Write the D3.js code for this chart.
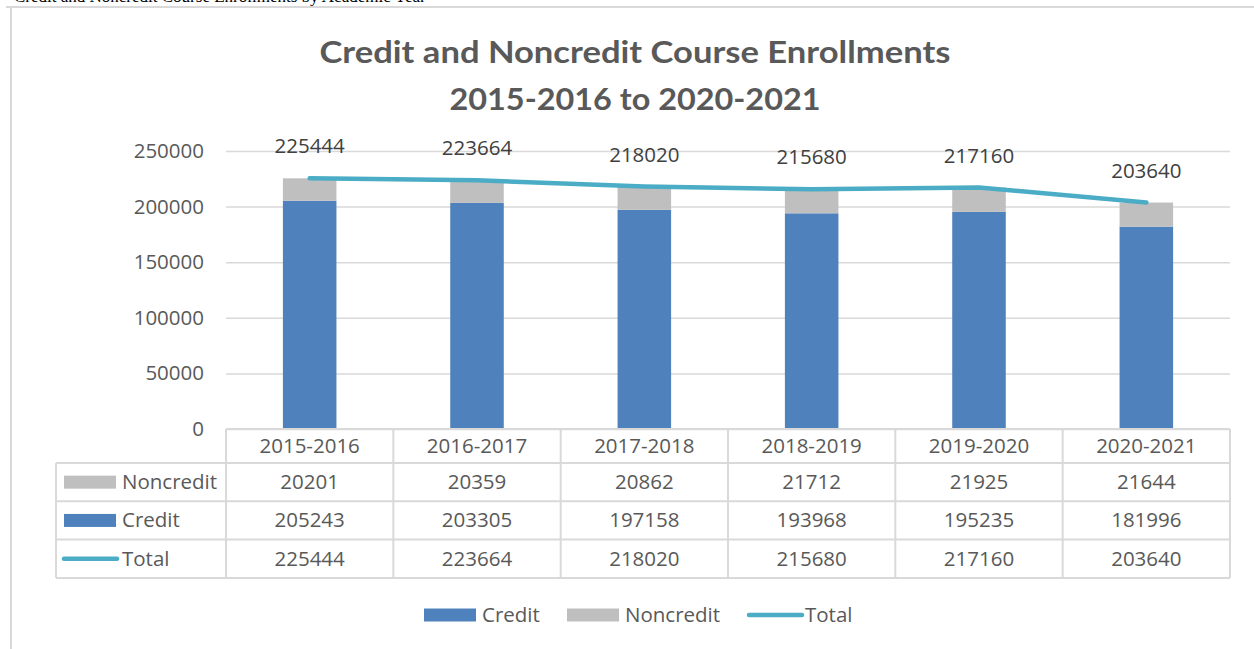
<!DOCTYPE html>
<html>
<head>
<meta charset="utf-8">
<script src="https://cdn.jsdelivr.net/npm/d3@7"></script>
<style>
	body { margin: 0; background: #fff; }
	svg { display: block; }
</style>
</head>
<body>
<svg id="chart" width="1254" height="649"></svg>
<script>
// chart data
const years = ["2015-2016", "2016-2017", "2017-2018", "2018-2019", "2019-2020", "2020-2021"]
const credit = [205243, 203305, 197158, 193968, 195235, 181996]
const noncredit = [20201, 20359, 20862, 21712, 21925, 21644]
const total = [225444, 223664, 218020, 215680, 217160, 203640]
const yTicks = [0, 50000, 100000, 150000, 200000, 250000]

const cBlue = "#4f81bd", cGrey = "#bfbfbf", cTeal = "#4bacc6", cText = "#595959", cGrid = "#d9d9d9"
const font = "'Open Sans', sans-serif"
const fs = "20.5px"

var svg = d3.select("#chart")

// page text cut off above the chart
svg.append("text")
	.attr("x", 14).attr("y", 2)
	.attr("font-family", "'Liberation Serif', serif")
	.attr("font-size", "17px")
	.attr("fill", "#000")
	.text("Credit and Noncredit Course Enrollments by Academic Year")

// chart frame
svg.append("line").attr("x1", 6).attr("x2", 1254).attr("y1", 7).attr("y2", 7)
	.attr("stroke", cGrid).attr("stroke-width", 2)
svg.append("line").attr("x1", 11).attr("x2", 11).attr("y1", 7).attr("y2", 649)
	.attr("stroke", cGrid).attr("stroke-width", 2)

// title
svg.append("text")
	.attr("x", 635).attr("y", 63)
	.attr("text-anchor", "middle")
	.attr("font-family", "Lato, sans-serif")
	.attr("font-weight", "bold")
	.attr("font-size", "31px")
	.attr("textLength", 631)
	.attr("lengthAdjust", "spacingAndGlyphs")
	.attr("fill", cText)
	.text("Credit and Noncredit Course Enrollments")
svg.append("text")
	.attr("x", 635).attr("y", 110)
	.attr("text-anchor", "middle")
	.attr("font-family", "Lato, sans-serif")
	.attr("font-weight", "bold")
	.attr("font-size", "31px")
	.attr("textLength", 371)
	.attr("lengthAdjust", "spacingAndGlyphs")
	.attr("fill", cText)
	.text("2015-2016 to 2020-2021")

var xScale = d3.scaleBand().domain(years).range([226, 1230]),
	yScale = d3.scaleLinear().domain([0, 250000]).range([429, 151])

var barW = xScale.bandwidth() * 0.32
var cx = function(i) { return xScale(years[i]) + xScale.bandwidth() / 2 }

// gridlines + y labels
var yAxis = svg.append("g")
	.attr("transform", "translate(226,0)")
	.call(d3.axisLeft(yScale).tickValues(yTicks).tickSize(-1004).tickPadding(22).tickFormat(d3.format("d")))
yAxis.select(".domain").remove()
yAxis.selectAll(".tick line").attr("stroke", cGrid).attr("stroke-width", 1.5)
yAxis.selectAll(".tick text")
	.attr("font-family", font).attr("font-size", fs).attr("fill", cText)

// stacked bars
svg.append("g").selectAll("rect")
	.data(credit)
	.enter().append("rect")
	.attr("x", function(d, i) { return cx(i) - barW / 2 })
	.attr("width", barW)
	.attr("y", function(d) { return yScale(d) })
	.attr("height", function(d) { return yScale(0) - yScale(d) })
	.attr("fill", cBlue)

svg.append("g").selectAll("rect")
	.data(noncredit)
	.enter().append("rect")
	.attr("x", function(d, i) { return cx(i) - barW / 2 })
	.attr("width", barW)
	.attr("y", function(d, i) { return yScale(credit[i] + d) })
	.attr("height", function(d, i) { return yScale(credit[i]) - yScale(credit[i] + d) })
	.attr("fill", cGrey)

// total line
var line = d3.line()
	.x(function(d, i) { return cx(i) })
	.y(function(d) { return yScale(d) })
svg.append("path")
	.datum(total)
	.attr("d", line)
	.attr("fill", "none")
	.attr("stroke", cTeal)
	.attr("stroke-width", 4.5)
	.attr("stroke-linecap", "round")
	.attr("stroke-linejoin", "round")

svg.append("g").selectAll("text")
	.data(total)
	.enter().append("text")
	.attr("x", function(d, i) { return cx(i) })
	.attr("y", function(d) { return yScale(d) - 25 })
	.attr("text-anchor", "middle")
	.attr("font-family", font).attr("font-size", fs)
	.attr("fill", "#404040")
	.text(function(d) { return d })

// data table
const tLeft = 56, tTop = 429, headH = 34, rowH = 38.3
const rows = [
	{ name: "Noncredit", values: noncredit, kind: "grey" },
	{ name: "Credit", values: credit, kind: "blue" },
	{ name: "Total", values: total, kind: "line" }
]
var tb = svg.append("g")
var tBottom = tTop + headH + rows.length * rowH

// horizontal lines
tb.append("line").attr("x1", 226).attr("x2", 1230).attr("y1", tTop).attr("y2", tTop)
for (let r = 0; r <= rows.length; r++) {
	let yy = tTop + headH + r * rowH
	tb.append("line").attr("x1", tLeft).attr("x2", 1230).attr("y1", yy).attr("y2", yy)
}
// vertical lines
tb.append("line").attr("x1", tLeft).attr("x2", tLeft).attr("y1", tTop + headH).attr("y2", tBottom)
years.forEach(function(y, i) {
	tb.append("line").attr("x1", xScale(y)).attr("x2", xScale(y)).attr("y1", tTop).attr("y2", tBottom)
})
tb.append("line").attr("x1", 1230).attr("x2", 1230).attr("y1", tTop).attr("y2", tBottom)
tb.selectAll("line").attr("stroke", cGrid).attr("stroke-width", 2)

// header labels
tb.selectAll(".hdr")
	.data(years)
	.enter().append("text")
	.attr("class", "hdr")
	.attr("x", function(d, i) { return cx(i) })
	.attr("y", tTop + headH / 2 + 7)
	.attr("text-anchor", "middle")
	.attr("font-family", font).attr("font-size", fs).attr("fill", cText)
	.text(function(d) { return d })

rows.forEach(function(row, r) {
	let mid = tTop + headH + r * rowH + rowH / 2
	if (row.kind === "line") {
		tb.append("line").attr("x1", 64).attr("x2", 117).attr("y1", mid).attr("y2", mid)
			.attr("stroke", cTeal).attr("stroke-width", 4.5).attr("stroke-linecap", "round")
	} else {
		tb.append("rect").attr("x", 64).attr("y", mid - 6.5).attr("width", 52).attr("height", 13)
			.attr("fill", row.kind === "blue" ? cBlue : cGrey)
	}
	tb.append("text")
		.attr("x", 122).attr("y", mid + 7)
		.attr("font-family", font).attr("font-size", fs).attr("fill", cText)
		.text(row.name)
	row.values.forEach(function(v, i) {
		tb.append("text")
			.attr("x", cx(i)).attr("y", mid + 7)
			.attr("text-anchor", "middle")
			.attr("font-family", font).attr("font-size", fs).attr("fill", cText)
			.text(v)
	})
})

// legend
var lg = svg.append("g")
const ly = 615
lg.append("rect").attr("x", 424).attr("y", ly - 6.5).attr("width", 52).attr("height", 13).attr("fill", cBlue)
lg.append("text").attr("x", 482).attr("y", ly + 7).text("Credit")
lg.append("rect").attr("x", 567).attr("y", ly - 6.5).attr("width", 52).attr("height", 13).attr("fill", cGrey)
lg.append("text").attr("x", 625).attr("y", ly + 7).text("Noncredit")
lg.append("line").attr("x1", 749).attr("x2", 802).attr("y1", ly).attr("y2", ly)
	.attr("stroke", cTeal).attr("stroke-width", 4.5).attr("stroke-linecap", "round")
lg.append("text").attr("x", 805).attr("y", ly + 7).text("Total")
lg.selectAll("text").attr("font-family", font).attr("font-size", fs).attr("fill", cText)
</script>
</body>
</html>
